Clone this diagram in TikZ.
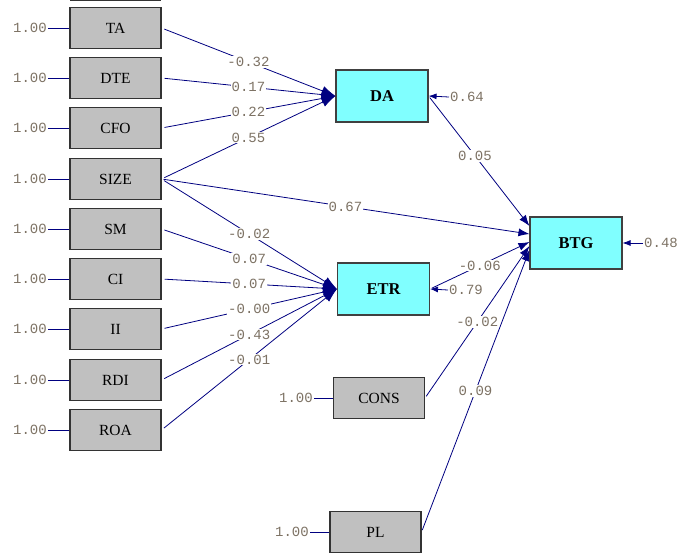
\documentclass[tikz,border=0pt]{standalone}
\usepackage{fontspec}
\setmainfont{Liberation Serif}
\newfontfamily\numfont{Liberation Mono}
\usetikzlibrary{arrows.meta}
\definecolor{navy}{RGB}{0,0,128}
\definecolor{numcol}{RGB}{125,114,100}
\definecolor{boxgray}{RGB}{192,192,192}
\definecolor{boxcyan}{RGB}{128,255,255}
\begin{document}
\begin{tikzpicture}[x=1pt,y=-1pt,
 obs/.style={draw=black!80, line width=1.1pt, fill=boxgray, minimum width=91pt, minimum height=41pt, inner sep=0pt, font=\fontsize{15.5}{15.5}\selectfont},
 lat/.style={draw=black!75, line width=1.1pt, fill=boxcyan, minimum width=92pt, minimum height=52pt, inner sep=0pt, font=\bfseries\fontsize{16.5}{16.5}\selectfont},
 num/.style={text=numcol, font=\numfont\fontsize{14}{14}\selectfont, inner sep=1pt},
 lbl/.style={num, fill=white, pos=0.5},
 conn/.style={draw=navy, line width=0.8pt},
 bigarr/.style={conn, shorten <=3pt, -{Latex[length=14pt,width=10pt]}},
 smallarr/.style={conn, shorten <=2pt, -{Latex[length=11pt,width=8pt]}},
 errarr/.style={conn, -{Latex[length=8pt,width=6pt]}},
]
\useasboundingbox (0,0) rectangle (686,560);
% partial box edge at the top
\draw[black!80, line width=1.2pt] (70,0.6) -- (161,0.6);

% observed boxes
\node[obs] (TA) at (115.5,28) {TA};
\node[obs] (DTE) at (115.5,78) {DTE};
\node[obs] (CFO) at (115.5,128) {CFO};
\node[obs] (SIZE) at (115.5,179) {SIZE};
\node[obs] (SM) at (115.5,229) {SM};
\node[obs] (CI) at (115.5,279) {CI};
\node[obs] (II) at (115.5,329) {II};
\node[obs] (RDI) at (115.5,380) {RDI};
\node[obs] (ROA) at (115.5,430) {ROA};
\node[obs] (CONS) at (379,398) {CONS};
\node[obs] (PL) at (375.5,532) {PL};

% latent / endogenous boxes
\node[lat] (DA) at (382,96) {DA};
\node[lat] (ETR) at (383.5,289) {ETR};
\node[lat] (BTG) at (576,243) {BTG};

% exogenous 1.00 labels
\foreach \n/\y in {TA/28,DTE/78,CFO/128,SIZE/179,SM/229,CI/279,II/329,RDI/380,ROA/430}{
  \node[num] (u\n) at (30,\y) {1.00};
  \draw[conn] (u\n) -- (\n);
}
\node[num] (uCONS) at (296,398) {1.00};
\draw[conn] (uCONS) -- (CONS);
\node[num] (uPL) at (292,532) {1.00};
\draw[conn] (uPL) -- (PL);

% paths to DA
\draw[bigarr] (TA.east) -- (DA.west) node[lbl] {-0.32};
\draw[bigarr] (DTE.east) -- (DA.west) node[lbl] {0.17};
\draw[bigarr] (CFO.east) -- (DA.west) node[lbl] {0.22};
\draw[bigarr] (SIZE.east) -- (DA.west) node[lbl] {0.55};

% paths to ETR
\draw[bigarr] (SIZE.east) -- (ETR.west) node[lbl] {-0.02};
\draw[bigarr] (SM.east) -- (ETR.west) node[lbl] {0.07};
\draw[bigarr] (CI.east) -- (ETR.west) node[lbl] {0.07};
\draw[bigarr] (II.east) -- (ETR.west) node[lbl] {-0.00};
\draw[bigarr] (RDI.east) -- (ETR.west) node[lbl] {-0.43};
\draw[bigarr] (ROA.east) -- (ETR.west) node[lbl] {-0.01};

% paths to BTG
\draw[smallarr] (SIZE.east) -- ([yshift=9pt]BTG.west) node[lbl] {0.67};
\draw[smallarr] (DA.east) -- ([yshift=17pt]BTG.west) node[lbl, pos=0.46] {0.05};
\draw[smallarr] (ETR.east) -- ([yshift=1pt]BTG.west) node[lbl] {-0.06};
\draw[smallarr] (CONS.east) -- ([yshift=-3pt]BTG.west) node[lbl] {-0.02};
\draw[smallarr] (PL.east) -- ([yshift=-7pt]BTG.west) node[lbl] {0.09};

% error terms
\node[num] (eDA) at (467,97) {0.64};
\draw[errarr] (eDA.west) -- (DA.east);
\node[num] (eETR) at (466,290) {0.79};
\draw[errarr] (eETR.west) -- (ETR.east);
\node[num] (eBTG) at (661,243) {0.48};
\draw[errarr] (eBTG.west) -- (BTG.east);
\end{tikzpicture}
\end{document}
